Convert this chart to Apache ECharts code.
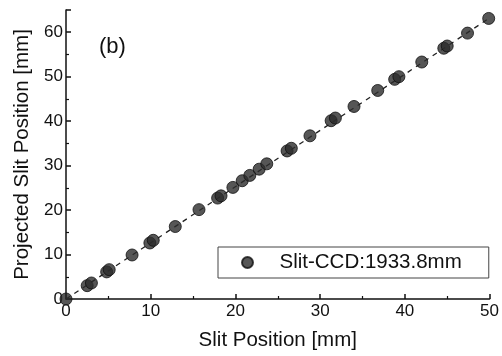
<!DOCTYPE html>
<html>
<head>
<meta charset="utf-8">
<script src="https://cdn.jsdelivr.net/npm/echarts@6/dist/echarts.min.js"></script>
<style>
  html, body { margin: 0; padding: 0; background: #fff; }
  #chart { width: 502px; height: 356px; }
</style>
</head>
<body>
<div id="chart"></div>
<script>
// measured slit positions [mm] and where they land when projected [mm]
const slitPos = [0, 2.5, 3.0, 4.8, 5.1, 7.8, 9.9, 10.3, 12.9, 15.7, 17.9, 18.3, 19.7, 20.8,
  21.7, 22.8, 23.7, 26.1, 26.6, 28.8, 31.3, 31.8, 34.0, 36.8, 38.8, 39.3, 42.0, 44.6, 45.0, 47.4, 49.9];
const projPos = [0, 3.0, 3.6, 6.1, 6.6, 9.9, 12.6, 13.2, 16.3, 20.1, 22.7, 23.2, 25.1, 26.6,
  27.8, 29.2, 30.4, 33.3, 33.9, 36.7, 40.1, 40.7, 43.3, 46.9, 49.4, 50.0, 53.3, 56.4, 56.9, 59.8, 63.1];
// dashed guide line ends
const fitX = [0, 50];
const fitY = [0, 63.2];
const legendName = 'Slit-CCD:1933.8mm';

const chart = echarts.init(document.getElementById('chart'), null, { renderer: 'canvas' });
const font = '"Liberation Sans", Arial, sans-serif';

chart.setOption({
  animation: false,
  backgroundColor: '#fff',
  textStyle: { fontFamily: font, color: '#111' },
  grid: { left: 66, right: 12, top: 10, bottom: 54, containLabel: false },
  title: {
    text: '(b)',
    left: 94, top: 31,
    textStyle: { fontFamily: font, fontSize: 22, fontWeight: 'normal', color: '#111' }
  },
  legend: {
    data: [{ name: legendName, icon: 'circle' }],
    left: 218, top: 247,
    orient: 'horizontal',
    padding: [5, 27, 5, 23],
    itemWidth: 30, itemHeight: 11,
    borderColor: '#444', borderWidth: 1, borderRadius: 0,
    selectedMode: false,
    textStyle: { fontFamily: font, fontSize: 20.5, color: '#111', padding: [0, 0, 0, 12] }
  },
  xAxis: {
    type: 'value', min: 0, max: 50, interval: 10,
    name: 'Slit Position [mm]', nameLocation: 'middle', nameGap: 31,
    nameTextStyle: { fontFamily: font, fontSize: 20.5, color: '#111' },
    axisLine: { show: true, onZero: false, lineStyle: { color: '#111', width: 1.5 } },
    axisTick: { show: true, inside: true, length: 5, lineStyle: { color: '#111', width: 1.5 } },
    minorTick: { show: true, splitNumber: 2, length: 3, lineStyle: { color: '#111', width: 1.2 } },
    axisLabel: { fontFamily: font, fontSize: 17, color: '#111', margin: 4 },
    splitLine: { show: false }
  },
  yAxis: {
    type: 'value', min: 0, max: 65, interval: 10,
    name: 'Projected Slit Position [mm]', nameLocation: 'middle', nameGap: 33,
    nameTextStyle: { fontFamily: font, fontSize: 20.5, color: '#111' },
    axisLine: { show: true, onZero: false, lineStyle: { color: '#111', width: 1.5 } },
    axisTick: { show: true, inside: true, length: 5, lineStyle: { color: '#111', width: 1.5 } },
    minorTick: { show: true, splitNumber: 2, length: 3, lineStyle: { color: '#111', width: 1.2 } },
    axisLabel: { fontFamily: font, fontSize: 17, color: '#111', margin: 3, showMaxLabel: false },
    splitLine: { show: false }
  },
  series: [
    {
      name: 'fit',
      type: 'line',
      data: fitX.map((x, i) => [x, fitY[i]]),
      symbol: 'none',
      lineStyle: { color: '#222', width: 1.3, type: [5, 5] },
      z: 1
    },
    {
      name: legendName,
      type: 'scatter',
      data: slitPos.map((x, i) => [x, projPos[i]]),
      symbol: 'circle',
      symbolSize: 12,
      itemStyle: { color: '#2c2c2c', borderColor: '#111', borderWidth: 1 },
      z: 3
    }
  ]
});
</script>
</body>
</html>
